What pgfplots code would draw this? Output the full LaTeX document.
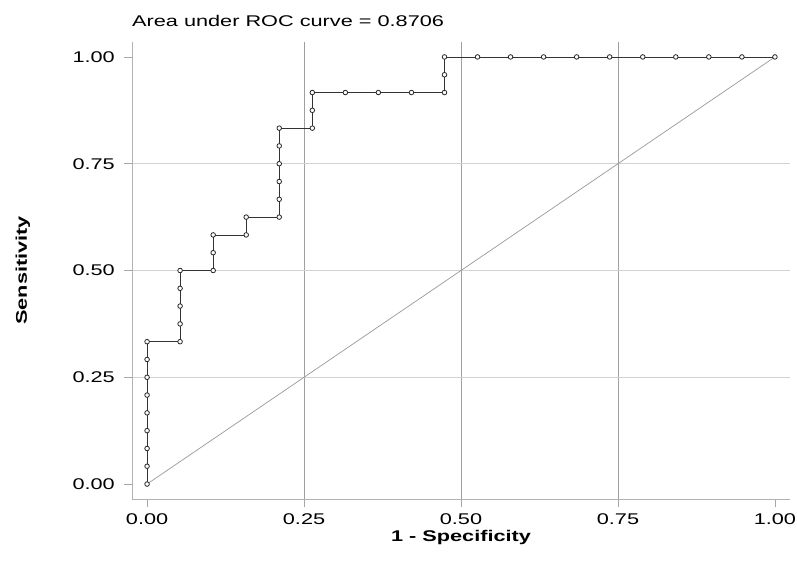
\documentclass[border=0pt]{standalone}
\usepackage{fontspec}
\setmainfont[FakeStretch=1.4]{Liberation Sans}
\usepackage{pgfplots}
\pgfplotsset{compat=1.18}
\begin{document}
\fontsize{15.5pt}{18pt}\selectfont
\begin{tikzpicture}
\useasboundingbox (0,0) rectangle (797pt,587pt);
\begin{axis}[
  at={(132pt,88pt)}, anchor=south west,
  scale only axis, width=658pt, height=457pt,
  xmin=-0.024, xmax=1.024, ymin=-0.035, ymax=1.035,
  axis x line*=bottom, axis y line*=left,
  axis line style={gray!60, line width=0.6pt, -},
  xtick={0,0.25,0.5,0.75,1}, ytick={0,0.25,0.5,0.75,1},
  xticklabels={0.00,0.25,0.50,0.75,1.00},
  yticklabels={0.00,0.25,0.50,0.75,1.00},
  minor xtick={0.25,0.5,0.75}, minor ytick={0.25,0.5,0.75},
  minor tick length=0pt,
  minor x grid style={gray!75, line width=0.6pt},
  minor y grid style={gray!35, line width=0.6pt},
  xminorgrids=true, yminorgrids=true,
  tick align=outside, major tick length=8pt,
  tick style={gray!70, line width=0.6pt},
  /pgf/number format/assume math mode=true,
  tick label style={font=\fontsize{15.5pt}{18pt}\selectfont, inner sep=0pt},
  yticklabel style={xshift=-9pt},
  xticklabel style={yshift=-6pt},
  title={Area under ROC curve = 0.8706},
  title style={at={(axis description cs:0,1)}, anchor=base west, yshift=9.5pt, inner sep=0pt, font=\fontsize{15.5pt}{18pt}\selectfont},
  xlabel={1 - Specificity},
  xlabel style={at={(axis description cs:0.5,0)}, anchor=base, yshift=-42pt, inner sep=0pt, font=\fontsize{15.5pt}{18pt}\selectfont\bfseries},
  ylabel={Sensitivity},
  ylabel style={at={(axis description cs:-0.1596,0.5)}, anchor=base, inner sep=0pt, font=\fontsize{15.5pt}{18pt}\selectfont\bfseries},
  clip=false,
]
\addplot[gray!80, line width=0.7pt] coordinates {(0,0) (1,1)};
\addplot[black!80, line width=0.6pt, mark=*, mark size=2.3pt,
  mark options={draw=black!85, fill=white, line width=0.8pt}] coordinates {
(0,0) (0,0.0417) (0,0.0833) (0,0.125) (0,0.1667) (0,0.2083) (0,0.25) (0,0.2917) (0,0.3333)
(0.0526,0.3333) (0.0526,0.375) (0.0526,0.4167) (0.0526,0.4583) (0.0526,0.5)
(0.1053,0.5) (0.1053,0.5417) (0.1053,0.5833)
(0.1579,0.5833) (0.1579,0.625)
(0.2105,0.625) (0.2105,0.6667) (0.2105,0.7083) (0.2105,0.75) (0.2105,0.7917) (0.2105,0.8333)
(0.2632,0.8333) (0.2632,0.875) (0.2632,0.9167)
(0.3158,0.9167) (0.3684,0.9167) (0.4211,0.9167) (0.4737,0.9167) (0.4737,0.9583) (0.4737,1)
(0.5263,1) (0.5789,1) (0.6316,1) (0.6842,1) (0.7368,1) (0.7895,1) (0.8421,1) (0.8947,1) (0.9474,1) (1,1)
};
\end{axis}
\end{tikzpicture}
\end{document}
